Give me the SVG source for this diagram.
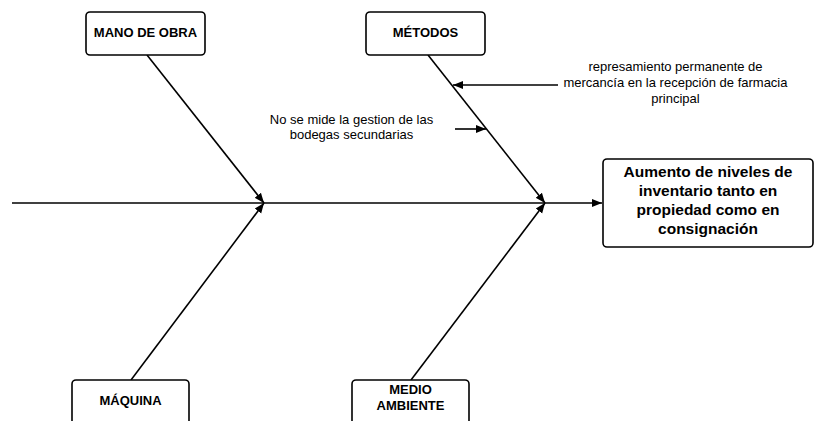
<svg xmlns="http://www.w3.org/2000/svg" width="816" height="421" viewBox="0 0 816 421">
  <style>
    .box { fill: #fff; stroke: #000; stroke-width: 1.6; }
    .lbl { font-family: "Liberation Sans", Arial, sans-serif; font-weight: bold; font-size: 13px; fill: #000; text-anchor: middle; }
    .eff { font-family: "Liberation Sans", Arial, sans-serif; font-weight: bold; font-size: 15.5px; fill: #000; text-anchor: middle; }
    .note { font-family: "Liberation Sans", Arial, sans-serif; font-size: 13px; fill: #000; text-anchor: middle; }
    .ln { stroke: #000; stroke-width: 1.6; fill: none; }
  </style>
  <defs>
    <marker id="arrB" viewBox="0 0 10 10" refX="10" refY="5" markerWidth="10" markerHeight="10" orient="auto" markerUnits="userSpaceOnUse">
      <path d="M0,1 L10,5 L0,9 z" fill="#000"/>
    </marker>
  </defs>

  <g id="connectors">
    <!-- spine -->
    <line class="ln" x1="12" y1="203" x2="602" y2="203" marker-end="url(#arrB)"/>
    <!-- category bones -->
    <line class="ln" x1="147" y1="55" x2="264" y2="203" marker-end="url(#arrB)"/>
    <line class="ln" x1="131" y1="380" x2="264" y2="203" marker-end="url(#arrB)"/>
    <line class="ln" x1="428" y1="55" x2="545" y2="203" marker-end="url(#arrB)"/>
    <line class="ln" x1="411" y1="380" x2="545" y2="203" marker-end="url(#arrB)"/>
    <!-- cause arrows -->
    <line class="ln" x1="558" y1="85" x2="453" y2="85" marker-end="url(#arrB)"/>
    <line class="ln" x1="455" y1="129" x2="486" y2="129" marker-end="url(#arrB)"/>
  </g>

  <g id="mano-de-obra">
    <rect class="box" x="86" y="12" width="119" height="43" rx="4"/>
    <text class="lbl" x="145.5" y="37">MANO DE OBRA</text>
  </g>

  <g id="metodos">
    <rect class="box" x="366" y="12" width="119" height="43" rx="4"/>
    <text class="lbl" x="425.5" y="37">MÉTODOS</text>
  </g>

  <g id="maquina">
    <rect class="box" x="72" y="380" width="117" height="60" rx="4"/>
    <text class="lbl" x="130.5" y="405">MÁQUINA</text>
  </g>

  <g id="medio-ambiente">
    <rect class="box" x="352" y="380" width="117" height="60" rx="4"/>
    <text class="lbl" x="410.5" y="394">MEDIO</text>
    <text class="lbl" x="410.5" y="410">AMBIENTE</text>
  </g>

  <g id="efecto">
    <rect class="box" x="603" y="159" width="210" height="88" rx="4"/>
    <text class="eff" x="708" y="177">Aumento de niveles de</text>
    <text class="eff" x="708" y="196">inventario tanto en</text>
    <text class="eff" x="708" y="215">propiedad como en</text>
    <text class="eff" x="708" y="234">consignación</text>
  </g>

  <g id="causa-represamiento">
    <text class="note" x="675.5" y="71">represamiento permanente de</text>
    <text class="note" x="675.5" y="87">mercancía en la recepción de farmacia</text>
    <text class="note" x="675.5" y="103">principal</text>
  </g>

  <g id="causa-bodegas">
    <text class="note" x="351.5" y="124">No se mide la gestion de las</text>
    <text class="note" x="351.5" y="139">bodegas secundarias</text>
  </g>
</svg>
